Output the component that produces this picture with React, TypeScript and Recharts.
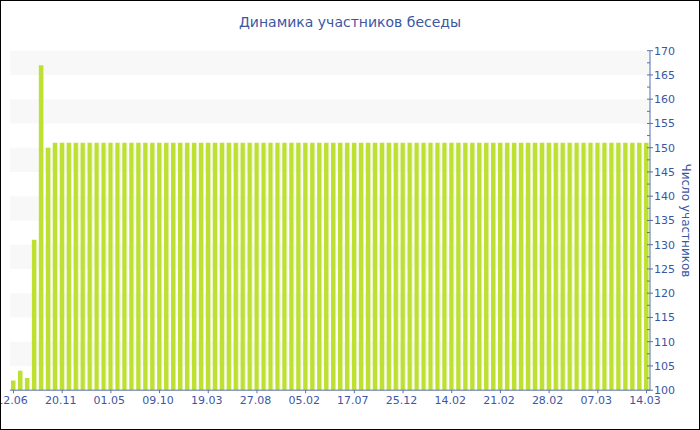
import { BarChart, Bar, XAxis, YAxis, ReferenceArea } from 'recharts';

// ─── Data ───────────────────────────────────────────────────────────
const chartTitle = 'Динамика участников беседы';
const yAxisTitle = 'Число участников';

// labels under every 7th bar
const dateLabels = [
  '12.06', '20.11', '01.05', '09.10', '19.03', '27.08', '05.02',
  '17.07', '25.12', '14.02', '21.02', '28.02', '07.03', '14.03',
];
const labelStep = 7;

const members = [
  102, 104, 102.5, 131, 167, 150, 151, 151, 151, 151,
  151, 151, 151, 151, 151, 151, 151, 151, 151, 151,
  151, 151, 151, 151, 151, 151, 151, 151, 151, 151,
  151, 151, 151, 151, 151, 151, 151, 151, 151, 151,
  151, 151, 151, 151, 151, 151, 151, 151, 151, 151,
  151, 151, 151, 151, 151, 151, 151, 151, 151, 151,
  151, 151, 151, 151, 151, 151, 151, 151, 151, 151,
  151, 151, 151, 151, 151, 151, 151, 151, 151, 151,
  151, 151, 151, 151, 151, 151, 151, 151, 151, 151,
  151, 151,
];

const yDomain: [number, number] = [100, 170];
const yTicks = [
  100, 102.5, 105, 107.5, 110, 112.5, 115, 117.5, 120, 122.5, 125, 127.5,
  130, 132.5, 135, 137.5, 140, 142.5, 145, 147.5, 150, 152.5, 155, 157.5,
  160, 162.5, 165, 167.5, 170,
];
// light stripes behind the bars
const shadedBands: [number, number][] = [
  [105, 110], [115, 120], [125, 130], [135, 140], [145, 150], [155, 160], [165, 170],
];

const data = members.map((v, i) => ({ idx: i, members: v }));

// ─── Styles ─────────────────────────────────────────────────────────
const FONT = '"DejaVu Sans", Verdana, sans-serif';
const TEXT = '#3d56a3';
const AXIS = '#5a6eae';

function YTick({ x, y, payload }: any) {
  const v = payload.value as number;
  const major = v % 5 === 0;
  const ax = x - 4; // axis line position (tickSize 0, tickMargin 4)
  return (
    <g>
      <line x1={ax - 3} x2={major ? ax + 3 : ax} y1={y} y2={y} stroke={AXIS} />
      {major && (
        <text x={x} y={y} dy="0.36em" fill={TEXT} fontSize={11} fontFamily={FONT}>
          {v}
        </text>
      )}
    </g>
  );
}

function YTitle({ viewBox }: any) {
  const cx = viewBox.x + 36;
  const cy = viewBox.y + viewBox.height / 2;
  return (
    <text
      x={cx}
      y={cy}
      transform={`rotate(90 ${cx} ${cy})`}
      textAnchor="middle"
      dominantBaseline="central"
      fill={TEXT}
      fontSize={12}
      fontFamily={FONT}
    >
      {yAxisTitle}
    </text>
  );
}

export default function App() {
  return (
    <div
      style={{
        position: 'absolute',
        left: 0,
        top: 0,
        width: 700,
        height: 430,
        border: '1px solid #000',
        boxSizing: 'border-box',
        overflow: 'hidden',
        background: '#fff',
        fontFamily: FONT,
      }}
    >
      <div
        style={{
          position: 'absolute',
          top: 12,
          left: 0,
          width: '100%',
          textAlign: 'center',
          fontSize: 14,
          color: TEXT,
          lineHeight: '18px',
        }}
      >
        {chartTitle}
      </div>
      <BarChart
        width={698}
        height={428}
        data={data}
        margin={{ top: 49.7, right: 0, bottom: 8.8, left: 9 }}
        barCategoryGap={1}
      >
        <defs>
          <linearGradient id="barFill" x1="0" y1="0" x2="1" y2="0">
            <stop offset="0%" stopColor="#bde033" />
            <stop offset="76%" stopColor="#bde033" />
            <stop offset="82%" stopColor="#d6ed86" />
            <stop offset="100%" stopColor="#dff1a3" />
          </linearGradient>
        </defs>
        {shadedBands.map(([a, b]) => (
          <ReferenceArea key={a} y1={a} y2={b} fill="#f8f8f8" fillOpacity={1} stroke="none" />
        ))}
        <XAxis
          dataKey="idx"
          type="category"
          interval={labelStep - 1}
          tickFormatter={(v: number) => dateLabels[v / labelStep] ?? ''}
          height={30}
          tickSize={3}
          tickMargin={3}
          stroke={AXIS}
          tick={{ fill: TEXT, fontSize: 11, fontFamily: FONT, dx: -1.5 }}
        />
        <YAxis
          orientation="right"
          domain={yDomain}
          ticks={yTicks}
          interval={0}
          width={49}
          tickSize={0}
          tickMargin={4}
          stroke={AXIS}
          tick={<YTick />}
          label={<YTitle />}
          allowDataOverflow
        />
        <Bar dataKey="members" fill="url(#barFill)" isAnimationActive={false} />
      </BarChart>
    </div>
  );
}
